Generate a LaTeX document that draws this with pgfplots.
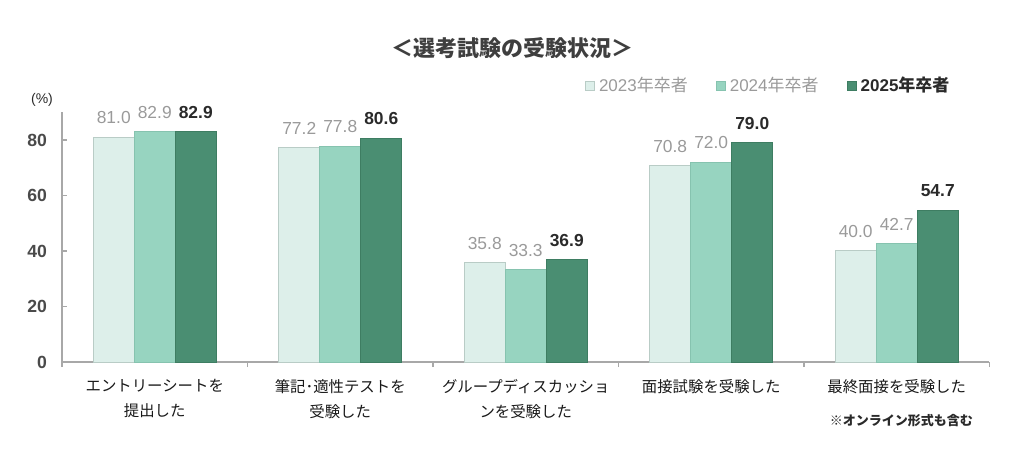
\documentclass[border=0pt]{standalone}
\usepackage{fontspec}
\usepackage{pgfplots}
\pgfplotsset{compat=1.18}
\setmainfont{Liberation Sans}
\newfontfamily\cjk{Noto Sans CJK JP}
\definecolor{c23}{HTML}{DDEFEA}
\definecolor{c23b}{HTML}{B9CCC6}
\definecolor{c24}{HTML}{97D4C0}
\definecolor{c24b}{HTML}{86C3AF}
\definecolor{c25}{HTML}{4A8E72}
\definecolor{c25b}{HTML}{3E7D62}
\definecolor{axgrey}{HTML}{A8A8A8}
\definecolor{lblgrey}{HTML}{9A9A9A}
\definecolor{txt}{HTML}{2A2A2A}
\begin{document}
\begin{tikzpicture}
\path[use as bounding box] (0pt,0pt) rectangle (512pt,225.5pt);
\begin{axis}[
  at={(31pt,44.5pt)}, anchor=south west,
  scale only axis, width=463.75pt, height=124.9pt,
  xmin=-0.5, xmax=4.5, ymin=0, ymax=90,
  axis x line*=bottom, axis y line*=left,
  axis line style={draw=axgrey, line width=0.6pt, -},
  ytick={0,20,40,60,80},
  xtick={0,1,2,3,4},
  xticklabels={{エントリーシートを\\提出した},{筆記･適性テストを\\受験した},{グループディスカッショ\\ンを受験した},{面接試験を受験した},{最終面接を受験した}},
  minor xtick={-0.5,0.5,1.5,2.5,3.5,4.5},
  tick align=inside,
  major tick length=2.5pt, minor tick length=2.5pt,
  every major x tick/.style={draw=none},
  tick style={draw=axgrey, line width=0.6pt},
  xticklabel style={font=\cjk\fontsize{7.7}{12.5}\selectfont, text=black!90, align=center, anchor=north, yshift=-2.5pt},
  yticklabel style={font=\fontsize{8.8}{10}\selectfont\bfseries, text=txt!85, xshift=-4pt},
  /pgf/number format/assume math mode=true,
  ybar, bar width=20.5pt,
  nodes near coords,
  nodes near coords style={/pgf/number format/fixed, /pgf/number format/fixed zerofill, /pgf/number format/precision=1, /pgf/number format/assume math mode=true},
  every node near coord/.append style={font=\fontsize{8.7}{10}\selectfont, yshift=3pt},
  legend columns=3,
  legend style={draw=none, fill=none, at={(0.557,1.105)}, anchor=west, font=\fontsize{8.5}{10}\selectfont, /tikz/every even column/.append style={column sep=12pt}},
  legend image code/.code={\path[#1] (0pt,-2pt) rectangle (4.5pt,2.5pt);},
  clip=false,
]
\addplot[bar shift=-20.5pt, fill=c23, draw=c23b, line width=0.5pt, every node near coord/.append style={text=lblgrey}]
  coordinates {(0,81.0) (1,77.2) (2,35.8) (3,70.8) (4,40.0)};
\addplot[bar shift=0pt, fill=c24, draw=c24b, line width=0.5pt, every node near coord/.append style={text=lblgrey}]
  coordinates {(0,82.9) (1,77.8) (2,33.3) (3,72.0) (4,42.7)};
\addplot[bar shift=20.5pt, fill=c25, draw=c25b, line width=0.5pt, every node near coord/.append style={text=txt, font=\fontsize{8.7}{10}\selectfont\bfseries}]
  coordinates {(0,82.9) (1,80.6) (2,36.9) (3,79.0) (4,54.7)};
\legend{\textcolor{lblgrey}{2023{\cjk 年卒者}},\textcolor{lblgrey}{2024{\cjk 年卒者}},\textcolor{txt}{\bfseries 2025{\cjk\bfseries 年卒者}}}
\end{axis}
\node[font=\cjk\bfseries\fontsize{11}{13}\selectfont, text=txt!90] at (256pt,201.5pt) {＜選考試験の受験状況＞};
\node[font=\fontsize{7}{8}\selectfont, text=txt] at (21pt,175.5pt) {(\%)};
\node[font=\cjk\bfseries\fontsize{6.5}{8}\selectfont, text=txt, anchor=east] at (490pt,15pt) {※オンライン形式も含む};
\end{tikzpicture}
\end{document}
